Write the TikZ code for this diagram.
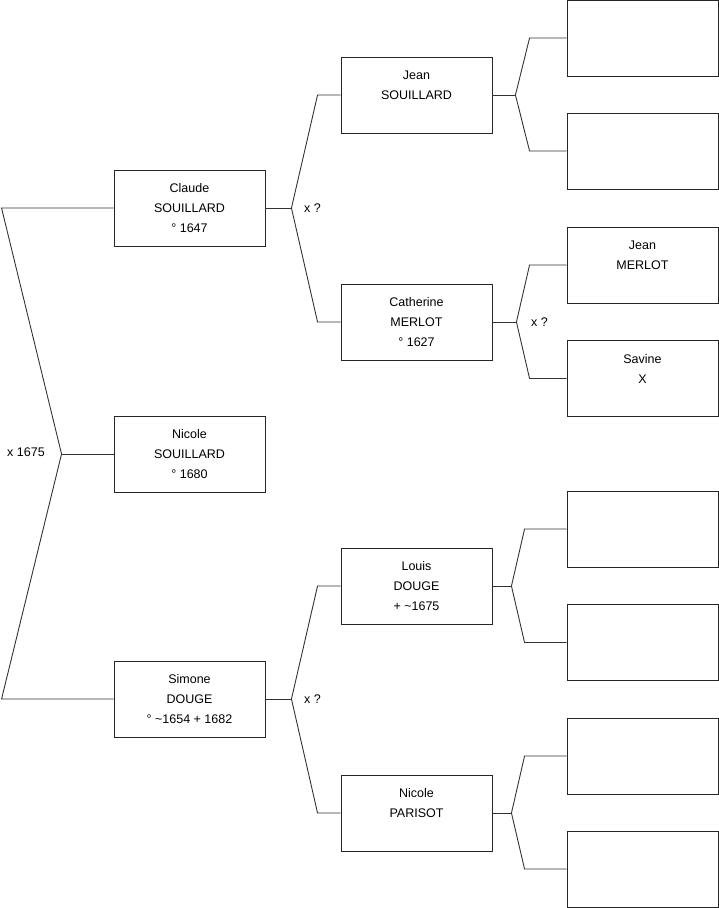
\documentclass[tikz,border=0pt]{standalone}
\usepackage{fontspec}
\setmainfont{Liberation Sans}
\usetikzlibrary{positioning,calc}

\begin{document}
\begin{tikzpicture}[
  x=1pt, y=-1pt,
  person/.style={rectangle, draw=black!85, line width=0.9pt, minimum width=151pt, minimum height=76pt, align=center, inner sep=0pt, font=\fontsize{12.5}{20}\selectfont},
  link/.style={draw=black!80, line width=0.9pt},
  union/.style={inner sep=0pt, font=\fontsize{12.5}{15}\selectfont}
]
  \useasboundingbox (0,0) rectangle (719,908);
  % Generation 1
  \node[person] (nicole) at (189.5,454) {Nicole\\SOUILLARD\\° 1680};
  % Generation 2: parents
  \node[person] (claude) at (189.5,208) {Claude\\SOUILLARD\\° 1647};
  \node[person] (simone) at (189.5,699) {Simone\\DOUGE\\° \textasciitilde1654 + 1682};
  % Generation 3: grandparents
  \node[person] (jean) at (416.5,95) {Jean\\SOUILLARD\\~};
  \node[person] (catherine) at (416.5,322) {Catherine\\MERLOT\\° 1627};
  \node[person] (louis) at (416.5,586) {Louis\\DOUGE\\+ \textasciitilde1675};
  \node[person] (parisot) at (416.5,813) {Nicole\\PARISOT\\~};
  % Generation 4: great-grandparents
  \node[person] (jsa) at (642.5,38) {};
  \node[person] (jsb) at (642.5,151) {};
  \node[person] (jmerlot) at (642.5,265) {Jean\\MERLOT\\~};
  \node[person] (savine) at (642.5,378.5) {Savine\\X\\~};
  \node[person] (lda) at (642.5,529) {};
  \node[person] (ldb) at (642.5,642.5) {};
  \node[person] (npa) at (642.5,756) {};
  \node[person] (npb) at (642.5,869) {};
  % Unions
  \node[union] (u0) at (26,452) {x 1675};
  \node[union] (u1) at ([xshift=47pt]claude.east) {x ?};
  \node[union] (u2) at ([xshift=47pt]simone.east) {x ?};
  \node[union] (u3) at ([xshift=47pt]catherine.east) {x ?};
  % Links
  \draw[link] (nicole.west) -- ++(-52,0) coordinate (j0);
  \draw[link] (claude.west) -- ++(-112,0) -- (j0) -- ([xshift=-112pt]simone.west) -- (simone.west);
  \draw[link] (claude.east) -- ++(26,0) coordinate (j1);
  \draw[link] (jean.west) -- ++(-23,0) -- (j1) -- ([xshift=-23pt]catherine.west) -- (catherine.west);
  \draw[link] (simone.east) -- ++(26,0) coordinate (j2);
  \draw[link] (louis.west) -- ++(-23,0) -- (j2) -- ([xshift=-23pt]parisot.west) -- (parisot.west);
  \draw[link] (jean.east) -- ++(23,0) coordinate (j3);
  \draw[link] (jsa.west) -- ++(-37,0) -- (j3) -- ([xshift=-37pt]jsb.west) -- (jsb.west);
  \draw[link] (catherine.east) -- ++(24,0) coordinate (j4);
  \draw[link] (jmerlot.west) -- ++(-37,0) -- (j4) -- ([xshift=-37pt]savine.west) -- (savine.west);
  \draw[link] (louis.east) -- ++(19,0) coordinate (j5);
  \draw[link] (lda.west) -- ++(-42,0) -- (j5) -- ([xshift=-42pt]ldb.west) -- (ldb.west);
  \draw[link] (parisot.east) -- ++(19,0) coordinate (j6);
  \draw[link] (npa.west) -- ++(-42,0) -- (j6) -- ([xshift=-42pt]npb.west) -- (npb.west);
\end{tikzpicture}
\end{document}
